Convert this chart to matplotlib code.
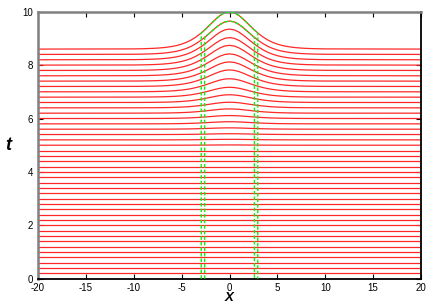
import numpy as np
import matplotlib
matplotlib.use('Agg')
import matplotlib.pyplot as plt

# baselines of the stacked curves (bottom to top)
t_levels = [0.0, 0.2, 0.4, 0.6, 0.8, 1.0, 1.2, 1.4, 1.6, 1.8,
            2.0, 2.2, 2.4, 2.6, 2.8, 3.0, 3.2, 3.4, 3.6, 3.8,
            4.0, 4.2, 4.4, 4.6, 4.8, 5.0, 5.2, 5.4, 5.6, 5.8,
            6.0, 6.2, 6.4, 6.6, 6.8, 7.0, 7.2, 7.4, 7.6, 7.8,
            8.0, 8.2, 8.4, 8.6]

# bump height of each curve, top curve first (the rest are flat)
amp_top_down = [1.40, 1.25, 1.15, 1.03, 0.94, 0.82, 0.72, 0.62, 0.49, 0.37,
                0.29, 0.21, 0.16, 0.11, 0.08, 0.05, 0.03, 0.02, 0.01]

# half profile of the bump (x >= 0), relative height
x_half = [0.0, 0.5, 1.0, 1.5, 2.0, 2.5, 3.0, 3.5, 4.0, 4.5,
          5.0, 5.5, 6.0, 6.5, 7.0, 7.5, 8.0, 9.0, 10.0, 20.0]
prof_half = [1.000, 0.973, 0.897, 0.786, 0.660, 0.534, 0.420, 0.324, 0.243, 0.181,
             0.133, 0.097, 0.071, 0.051, 0.037, 0.027, 0.019, 0.010, 0.005, 0.0]

# green boundary positions (outer follows top curve, inner the second one)
green_x = [2.95, 2.6]

plt.rcParams['font.family'] = ['Liberation Sans', 'DejaVu Sans']
plt.rcParams['axes.unicode_minus'] = False

xh = np.array(x_half)
ph = np.array(prof_half)
xs = np.concatenate([-xh[::-1], xh[1:]])
prof = np.concatenate([ph[::-1], ph[1:]])

n = len(t_levels)
amps = np.zeros(n)
amps[n - len(amp_top_down):] = amp_top_down[::-1]

fig = plt.figure(figsize=(4.36, 3.05), dpi=100)
ax = fig.add_axes([0.0872, 0.0862, 0.8784, 0.8754])

for t0, a in zip(t_levels, amps):
    ax.plot(xs, t0 + a * prof, color='#ff2828', lw=0.9, zorder=2)

# green dashed boundaries
for k, gx in enumerate(green_x):
    idx = n - 1 - k
    t0, a = t_levels[idx], amps[idx]
    inner = xs[np.abs(xs) < gx]
    path_x = np.concatenate([[-gx, -gx], inner, [gx, gx]])
    yedge = t0 + a * np.interp(gx, xs, prof)
    path_y = np.concatenate([[0, yedge], t0 + a * np.interp(inner, xs, prof), [yedge, 0]])
    ax.plot(path_x, path_y, color='#11ee11', lw=1.0, dashes=(2.5, 1.5), zorder=3)

ax.set_xlim(-20, 20)
ax.set_ylim(0, 10)
ax.set_xticks([-20, -15, -10, -5, 0, 5, 10, 15, 20])
ax.set_yticks([0, 2, 4, 6, 8, 10])
ax.tick_params(direction='in', length=3.5, width=0.8, labelsize=7,
               top=True, right=True)
ax.tick_params(axis='x', pad=3)
ax.tick_params(axis='y', pad=3.5)

ax.spines['left'].set_color('#808080')
ax.spines['top'].set_color('#808080')
ax.spines['left'].set_linewidth(1.8)
ax.spines['top'].set_linewidth(1.8)
ax.spines['bottom'].set_linewidth(1.3)
ax.spines['right'].set_linewidth(1.3)

ax.set_xlabel('X', fontsize=9.5, fontweight='bold', style='italic', va='top')
ax.xaxis.set_label_coords(0.5, -0.05)
ax.set_ylabel('t', fontsize=13, fontweight='bold', style='italic', rotation=0,
              labelpad=10, va='center')

fig.savefig('out.png', dpi=100)
